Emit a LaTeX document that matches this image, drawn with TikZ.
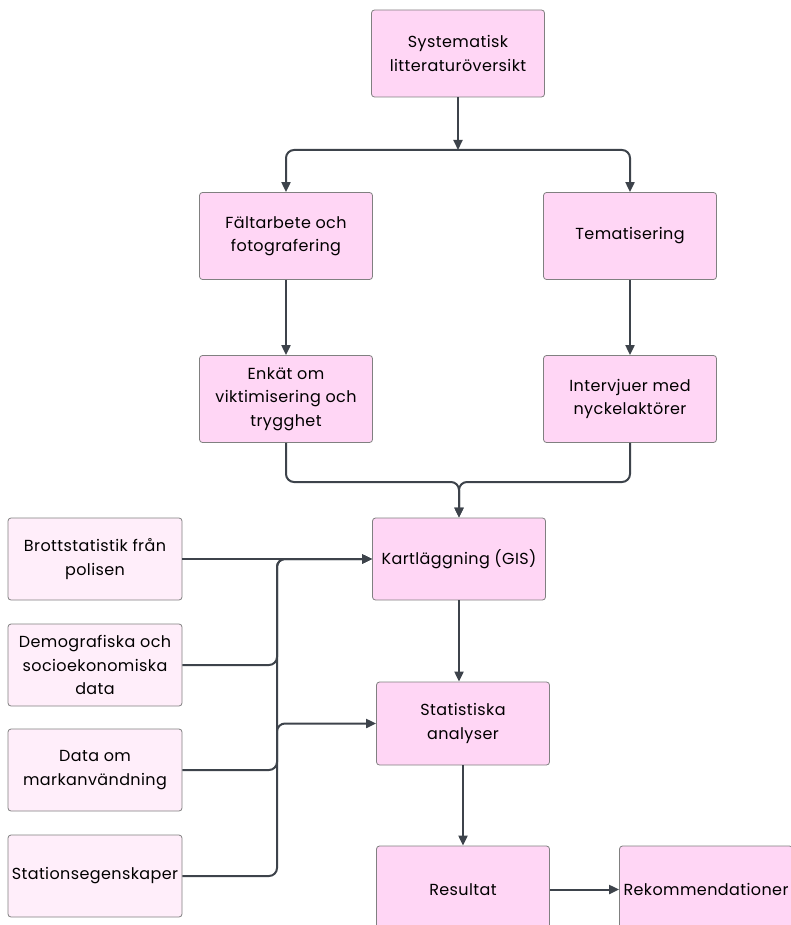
\documentclass[tikz,border=0pt]{standalone}
\usepackage{fontspec}
\setmainfont{Poppins}[LetterSpace=2.5]
\usetikzlibrary{arrows.meta,positioning}
\definecolor{boxpink}{HTML}{FFD6F5}
\definecolor{srcpink}{HTML}{FFEEFA}
\definecolor{linegrey}{HTML}{3D434B}
\tikzset{
	stepbox/.style={draw=black!50, line width=0.8pt, fill=boxpink, rounded corners=3pt, minimum width=173pt, minimum height=87pt, inner xsep=1pt, align=center, font=\fontsize{16}{23.5}\selectfont},
	srcbox/.style={stepbox, fill=srcpink, minimum width=174pt, minimum height=82pt},
	flow/.style={draw=linegrey, line width=2pt, rounded corners=8pt},
	arr/.style={flow, -{Triangle[length=10pt,width=9pt]}}
}

\begin{document}
\begin{tikzpicture}[x=1pt,y=-1pt]
				\useasboundingbox (0,0) rectangle (790,925);
				
				% main chain
				\node[stepbox] (lit) at (458,53.5) {Systematisk\\litteraturöversikt};
				\node[stepbox] (falt) at (286,236) {Fältarbete och\\fotografering};
				\node[stepbox] (tema) at (630,236) {Tematisering};
				\node[stepbox] (enkat) at (286,399) {Enkät om\\viktimisering och\\trygghet};
				\node[stepbox] (interv) at (630,399) {Intervjuer med\\nyckelaktörer};
				\node[stepbox, minimum height=82pt] (kart) at (459,559) {Kartläggning (GIS)};
				\node[stepbox, minimum height=83pt] (stat) at (463,723.5) {Statistiska\\analyser};
				\node[stepbox] (res) at (463,889.5) {Resultat};
				\node[stepbox] (rek) at (706,889.5) {Rekommendationer};
				
				% data sources
				\node[srcbox] (brott) at (95,559) {Brottstatistik från\\polisen};
				\node[srcbox] (demo) at (95,665) {Demografiska och\\socioekonomiska\\data};
				\node[srcbox] (mark) at (95,770) {Data om\\markanvändning};
				\node[srcbox] (stn) at (95,876) {Stationsegenskaper};
				
				\coordinate (split) at (458,150);
				\coordinate (merge) at (459,482);
				\coordinate (bus) at (277,0);
				
				\draw[arr] (lit) -- (split);
				\draw[arr] (split) -| (falt);
				\draw[arr] (split) -| (tema);
				\draw[arr] (falt) -- (enkat);
				\draw[arr] (tema) -- (interv);
				\draw[arr] (enkat.south) |- (merge) -- (kart.north);
				\draw[arr] (interv.south) |- (merge) -- (kart.north);
				
				\draw[arr] (brott) -- (kart);
				\draw[arr] (demo.east) -| (bus |- kart) -- (kart.west);
				\draw[arr] (mark.east) -| (bus |- kart) -- (kart.west);
				\draw[arr] (stn.east) -| (bus |- stat) -- (stat.west);
				
				\draw[arr] (kart.south) -- (kart.south |- stat.north);
				\draw[arr] (stat) -- (res);
				\draw[arr] (res) -- (rek);
\end{tikzpicture}
\end{document}
